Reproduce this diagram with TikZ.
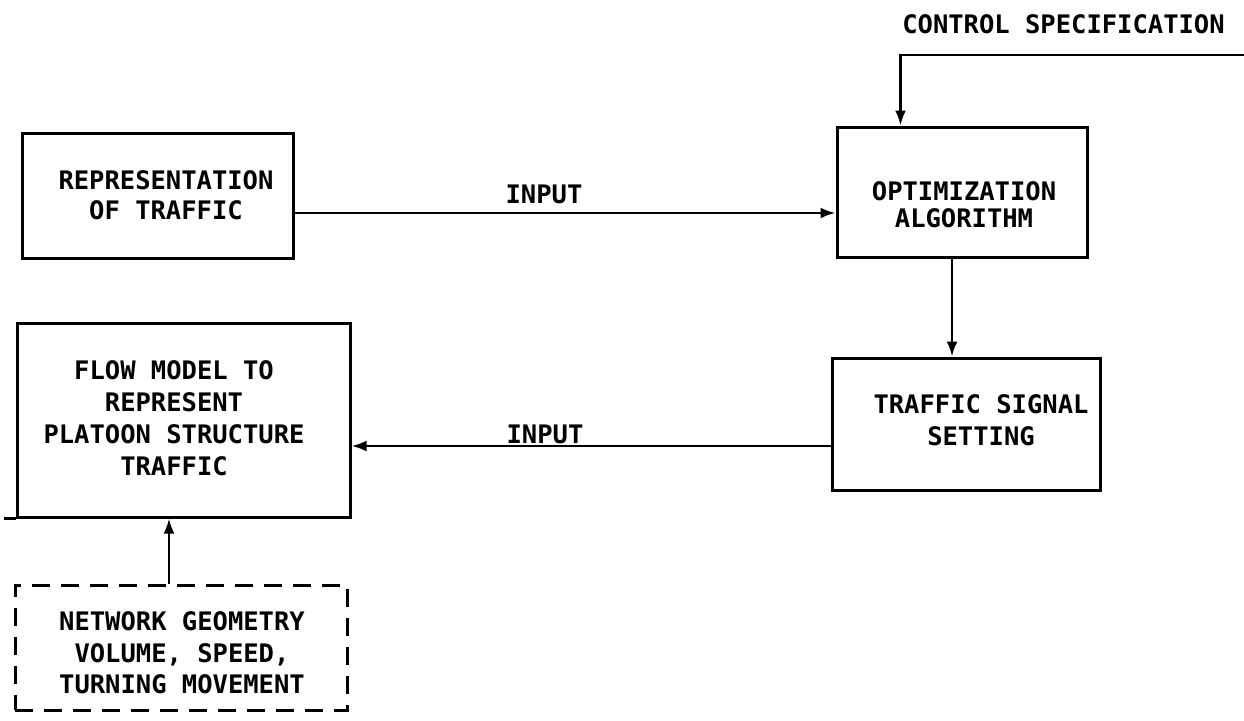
\documentclass[tikz,border=0pt]{standalone}
\usepackage{fontspec}
\newfontfamily\plotfont{DejaVu Sans Mono}
\usetikzlibrary{arrows.meta}
\tikzset{
  box/.style={draw, line width=3pt, rectangle, inner sep=0pt},
  dbox/.style={box, dash pattern=on 18pt off 11pt},
  txt/.style={align=center, inner sep=0pt, font=\plotfont\bfseries\fontsize{25.5}{30}\selectfont},
  conn/.style={line width=2.6pt, -{Latex[length=15pt,width=11pt]}},
  plain/.style={line width=2.6pt}
}
\begin{document}
\begin{tikzpicture}[x=1pt,y=-1pt]
\useasboundingbox (0,0) rectangle (1244,720);
% boxes
\node[box, minimum width=271pt, minimum height=125pt] (rep) at (157.5,195.5) {};
\node[box, minimum width=250pt, minimum height=130pt] (opt) at (962,192) {};
\node[box, minimum width=268pt, minimum height=132pt] (sig) at (966,424) {};
\node[box, minimum width=333pt, minimum height=194pt] (flow) at (183.5,420) {};
\node[dbox, minimum width=332pt, minimum height=125pt] (net) at (181,647.5) {};
% texts
\node[txt, font=\plotfont\bfseries\fontsize{25.5}{30}\selectfont] (repT) at (166,195) {REPRESENTATION\\OF TRAFFIC};
\node[txt, font=\plotfont\bfseries\fontsize{25.5}{27}\selectfont] (optT) at (964,205) {OPTIMIZATION\\ALGORITHM};
\node[txt, font=\plotfont\bfseries\fontsize{25.5}{32}\selectfont] (sigT) at (981,420) {TRAFFIC SIGNAL\\SETTING};
\node[txt, font=\plotfont\bfseries\fontsize{25.5}{32}\selectfont] (flowT) at (174,418) {FLOW MODEL TO\\REPRESENT\\PLATOON STRUCTURE\\TRAFFIC};
\node[txt, font=\plotfont\bfseries\fontsize{25.5}{31.5}\selectfont] (netT) at (182,653) {NETWORK GEOMETRY\\VOLUME, SPEED,\\TURNING MOVEMENT};
\node[txt] (ctrl) at (1063.5,24) {CONTROL SPECIFICATION};
\node[txt] (in1) at (544,194) {INPUT};
\node[txt] (in2) at (545,434) {INPUT};
% connectors
\coordinate (csEnd) at (1244,55);
\draw[conn] (csEnd) -| ([xshift=65pt]opt.north west);
\draw[conn] (rep.east |- 0,213) -- (opt.west |- 0,213);
\draw[conn] (opt.south -| 952,0) -- (sig.north -| 952,0);
\draw[conn] (sig.west |- 0,446) -- (flow.east |- 0,446);
\draw[conn] (net.north -| 169,0) -- (flow.south -| 169,0);
\draw[plain] (flow.south west) -- ++(-12,0);
\end{tikzpicture}
\end{document}
